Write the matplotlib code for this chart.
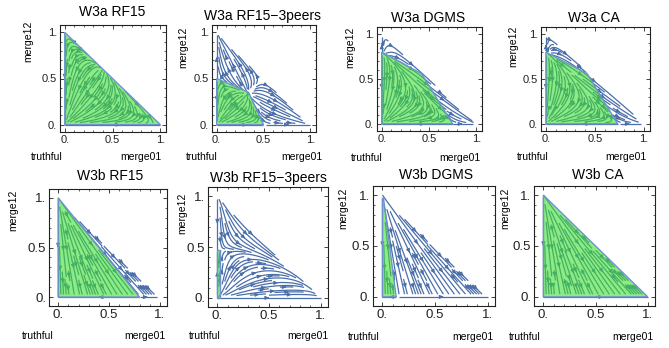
import numpy as np
import matplotlib.pyplot as plt
from matplotlib.patches import Polygon

plt.rcParams['font.family'] = ['Liberation Sans', 'DejaVu Sans']

# panel titles
titles = ["W3a RF15", "W3a RF15\u22123peers", "W3a DGMS", "W3a CA",
          "W3b RF15", "W3b RF15\u22123peers", "W3b DGMS", "W3b CA"]

# payoff matrices (rows/cols: truthful, merge01, merge12)
payoff_w3a_rf15 = [[2.0, 2.0, 2.0], [0.0, 1.5, 0.0], [0.0, 0.0, 1.0]]
payoff_w3a_rf15_3p = [[1.0, 0.0, 0.0], [0.0, 1.0, 0.0], [0.0, 0.0, 1.0]]
payoff_w3a_dgms = [[3.0, 0.0, 0.0], [0.0, 1.0, 1.0], [0.0, 0.0, 0.75]]
payoff_w3a_ca = [[2.8, 0.0, 0.0], [0.0, 1.0, 1.0], [0.0, 0.0, 0.7]]
payoff_w3b_rf15 = [[1.004, 1.0, 1.0], [1.0, 1.001, 1.0], [-3.0, -3.0, -3.0]]
payoff_w3b_rf15_3p = [[0.0, 0.0, 1.06], [0.6, 2.0, 0.6], [0.94, 1.5, 0.0]]
payoff_w3b_dgms = [[1.001, 1.0, 1.0], [1.0, 1.007, 1.0], [-3.0, -3.0, -3.0]]
payoff_w3b_ca = [[1.01, 1.0, 1.0], [1.0, 1.0, 1.0], [-3.0, -3.0, -3.0]]

# green basin of "truthful", vertices as (merge01, merge12)
basin_w3a_rf15 = [(0, 0), (1, 0), (0, 1)]
basin_w3a_rf15_3p = [(0, 0), (0.5, 0), (0.34, 0.35), (0, 0.5)]
basin_w3a_dgms = [(0, 0), (0.75, 0), (0.42, 0.56), (0, 0.8)]
basin_w3a_ca = [(0, 0), (0.73, 0), (0.42, 0.56), (0, 0.8)]
basin_w3b_rf15 = [(0, 0), (0.8, 0), (0, 1)]
basin_w3b_rf15_3p = [(0, 0), (0.025, 0), (0.025, 0.47), (0, 0.47)]
basin_w3b_dgms = [(0, 0), (0.13, 0), (0.01, 0.97), (0, 0.97)]
basin_w3b_ca = [(0, 0), (1, 0), (0, 1)]

payoffs = [payoff_w3a_rf15, payoff_w3a_rf15_3p, payoff_w3a_dgms, payoff_w3a_ca,
           payoff_w3b_rf15, payoff_w3b_rf15_3p, payoff_w3b_dgms, payoff_w3b_ca]
basins = [basin_w3a_rf15, basin_w3a_rf15_3p, basin_w3a_dgms, basin_w3a_ca,
          basin_w3b_rf15, basin_w3b_rf15_3p, basin_w3b_dgms, basin_w3b_ca]

tick_vals = [0, 0.5, 1]
tick_labels = ["0.", "0.5", "1."]

# layout in pixels: frame (left, top, right, bottom), title xy, merge12 xy, truthful xy, merge01 xy
frames = [(60, 25, 166, 132), (212, 25, 316, 132), (377, 27, 482, 131), (541, 27, 650, 131),
          (49, 189, 167, 306), (208, 187, 328, 307), (373, 186, 495, 306), (534, 186, 655, 306)]
title_xy = [(112, 12), (263, 16), (428, 18), (594, 18),
            (110, 176), (268, 178), (436, 175), (598, 175)]
ylab_xy = [(28, 41), (183, 47), (350, 47), (513, 46),
           (13, 210), (182, 213), (343, 208), (505, 208)]
truth_xy = [(47, 157), (202, 157), (367, 158), (533, 157),
            (38, 336), (205, 336), (364, 337), (525, 337)]
m01_xy = [(141, 157), (302, 157), (460, 158), (626, 157),
          (145, 336), (308, 336), (473, 337), (633, 337)]

W, H = 669, 348
fig = plt.figure(figsize=(W / 100, H / 100), dpi=100)

line_col = '#4b6fa9'
edge_col = '#6f92cf'
fill_col = (0.25, 0.87, 0.2)


def replicator(A, x, y):
    A = np.asarray(A, dtype=float)
    p = np.stack([1 - x - y, x, y])
    f = np.tensordot(A, p, axes=1)
    fbar = (p * f).sum(0)
    return x * (f[1] - fbar), y * (f[2] - fbar)


g = np.linspace(0, 1, 121)
X, Y = np.meshgrid(g, g)
outside = X + Y > 1.0 + 1e-9


def px(x, y):
    return x / W, 1 - y / H


for i in range(8):
    l, t, r, b = frames[i]
    ax = fig.add_axes([l / W, 1 - b / H, (r - l) / W, (b - t) / H])
    if i < 4:
        ax.set_xlim(-0.05, 1.06)
        ax.set_ylim(-0.08, 1.08)
    else:
        ax.set_xlim(-0.09, 1.07)
        ax.set_ylim(-0.09, 1.09)

    U, V = replicator(payoffs[i], X, Y)
    U = np.ma.array(U, mask=outside)
    V = np.ma.array(V, mask=outside)
    ax.streamplot(g, g, U, V, density=1.3, color=line_col, linewidth=0.9,
                  arrowsize=0.5, zorder=2)

    ax.add_patch(Polygon(basins[i], closed=True, facecolor=fill_col, alpha=0.6,
                         edgecolor='none', zorder=3))
    ax.add_patch(Polygon(basins[i], closed=True, facecolor='none',
                         edgecolor=edge_col, lw=1.0, zorder=4))

    fs = 8 if i < 4 else 9.5
    ax.set_xticks(tick_vals, labels=tick_labels)
    ax.set_yticks(tick_vals, labels=tick_labels)
    ax.set_xticks(np.arange(0, 1.01, 0.1), minor=True)
    ax.set_yticks(np.arange(0, 1.01, 0.1), minor=True)
    ax.tick_params(which='both', direction='in', top=True, right=True,
                   labelsize=fs, colors='#222222', pad=2)
    ax.tick_params(which='major', length=3, width=0.6)
    ax.tick_params(which='minor', length=1.5, width=0.5)
    for s in ax.spines.values():
        s.set_linewidth(0.8)
        s.set_color('#222222')

    fig.text(*px(*title_xy[i]), titles[i], ha='center', va='center', fontsize=10)
    fig.text(*px(*ylab_xy[i]), "merge12", ha='center', va='center', rotation=90, fontsize=7.5)
    fig.text(*px(*truth_xy[i]), "truthful", ha='center', va='center', fontsize=7.5)
    fig.text(*px(*m01_xy[i]), "merge01", ha='center', va='center', fontsize=7.5)

fig.savefig("out.png", dpi=100)
